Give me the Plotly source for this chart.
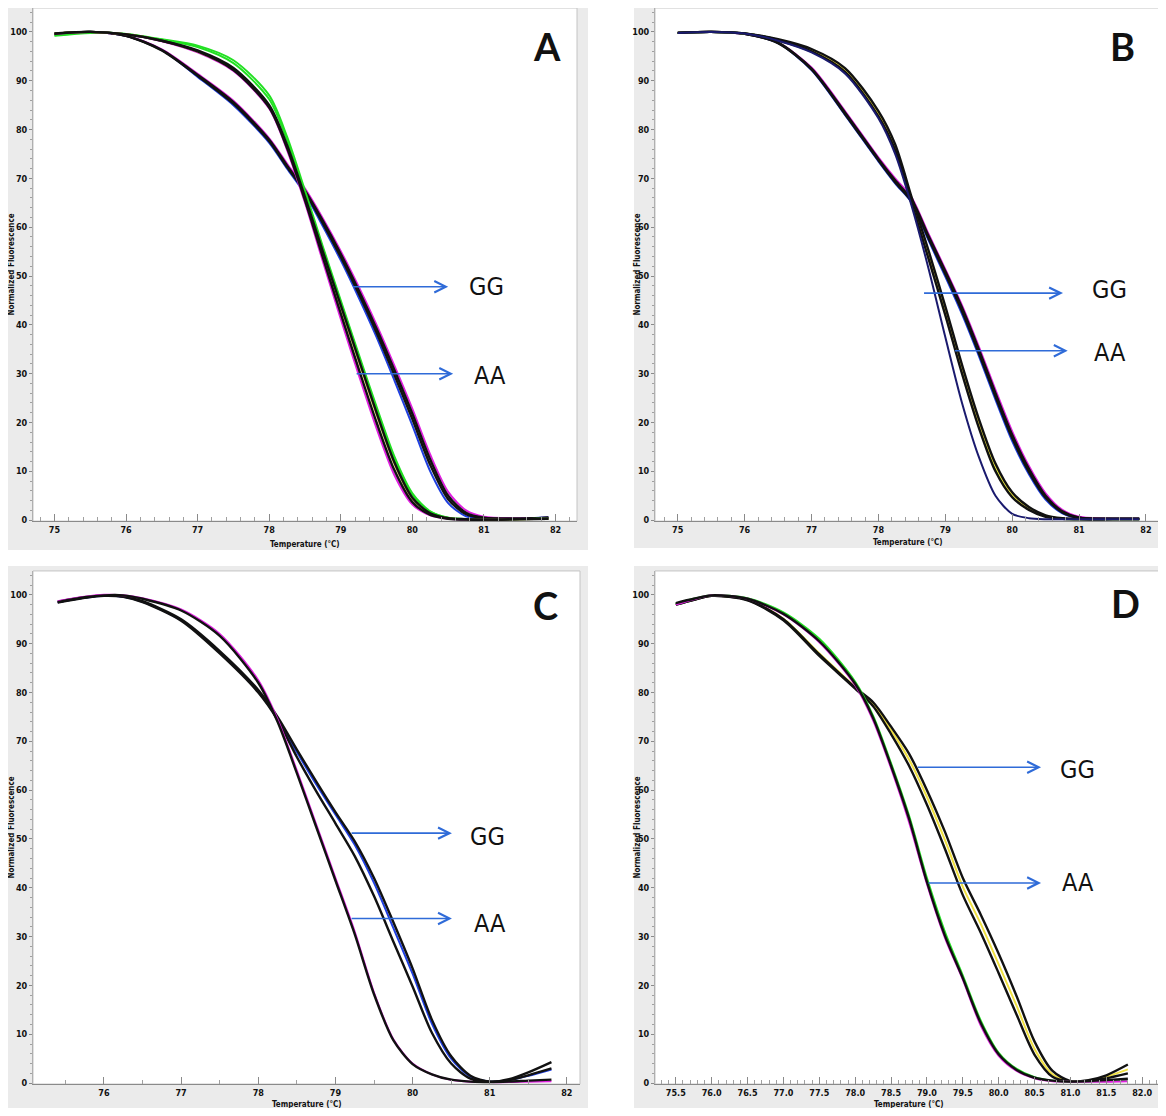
import plotly.graph_objects as go

# page has an 8px body margin: figure is drawn 8px in from the top-left corner
OX, OY = 8, 8
W, H = 1150, 1100

# ---------------- Panel A data ----------------
tA = [75.0, 75.5, 76.0, 76.5, 77.0, 77.5, 78.0, 78.25, 78.5, 78.75, 79.0,
      79.25, 79.5, 79.75, 80.0, 80.25, 80.5, 80.75, 81.0, 81.5, 81.9]
A_aa_green1 = [99.3, 99.9, 99.6, 98.5, 97.2, 94.2, 87.0, 78.5, 67.5, 56.0, 45.0, 34.0, 23.2, 13.0, 5.5, 1.8, 0.5, 0.2, 0.1, 0.2, 0.4]
A_aa_green2 = [99.2, 99.8, 99.6, 98.4, 96.9, 93.6, 86.2, 77.8, 66.8, 55.5, 44.5, 33.5, 22.8, 12.6, 5.2, 1.7, 0.5, 0.2, 0.1, 0.2, 0.3]
A_aa_black1 = [99.7, 100.0, 99.5, 98.2, 96.2, 92.6, 85.0, 76.8, 66.2, 55.0, 44.0, 33.0, 22.0, 11.8, 4.6, 1.4, 0.4, 0.2, 0.1, 0.2, 0.3]
A_aa_yellow = [99.7, 100.0, 99.5, 98.2, 96.0, 92.3, 84.7, 76.5, 66.0, 54.7, 43.6, 32.6, 21.6, 11.5, 4.4, 1.3, 0.4, 0.2, 0.1, 0.2, 0.3]
A_aa_black2 = [99.6, 100.0, 99.5, 98.2, 96.0, 92.2, 84.5, 76.2, 65.5, 53.8, 42.3, 31.0, 20.0, 10.2, 3.7, 1.1, 0.3, 0.1, 0.1, 0.2, 0.3]
A_aa_magenta = [99.6, 100.0, 99.5, 98.1, 95.8, 92.0, 84.3, 75.8, 65.0, 53.0, 41.2, 29.8, 18.8, 9.2, 3.2, 1.0, 0.3, 0.1, 0.1, 0.2, 0.3]
A_gg_blue = [99.6, 100.0, 99.2, 96.3, 90.8, 85.0, 77.3, 72.0, 66.8, 60.2, 53.2, 45.6, 37.5, 28.6, 19.4, 10.0, 3.5, 0.8, 0.3, 0.3, 0.6]
A_gg_black1 = [99.6, 100.0, 99.2, 96.2, 91.0, 85.3, 77.6, 72.3, 67.2, 60.8, 53.9, 46.4, 38.4, 29.7, 20.7, 11.3, 4.3, 1.2, 0.4, 0.3, 0.5]
A_gg_black2 = [99.6, 100.0, 99.2, 96.3, 91.2, 85.6, 77.9, 72.6, 67.5, 61.3, 54.5, 47.1, 39.2, 30.7, 21.8, 12.4, 5.0, 1.5, 0.5, 0.3, 0.5]
A_gg_magenta = [99.5, 100.0, 99.2, 96.4, 91.4, 85.9, 78.2, 73.0, 67.9, 61.8, 55.1, 47.8, 40.0, 31.6, 22.8, 13.4, 5.8, 2.0, 0.7, 0.4, 0.5]

# ---------------- Panel B data ----------------
tB = [75.0, 75.5, 76.0, 76.5, 77.0, 77.5, 78.0, 78.25, 78.5, 78.75, 79.0,
      79.25, 79.5, 79.75, 80.0, 80.25, 80.5, 80.75, 81.0, 81.5, 81.9]
B_aa_navy = [99.8, 100.0, 99.7, 98.2, 95.8, 91.5, 82.3, 75.0, 64.2, 51.5, 37.5, 24.0, 13.0, 5.0, 1.3, 0.4, 0.2, 0.2, 0.2, 0.2, 0.2]
B_aa_yellow = [99.8, 100.0, 99.7, 98.4, 96.3, 92.2, 83.3, 76.5, 65.5, 54.5, 43.0, 31.0, 20.0, 11.0, 5.3, 2.4, 0.9, 0.3, 0.2, 0.2, 0.2]
B_aa_green = [99.8, 100.0, 99.7, 98.4, 96.2, 92.0, 83.0, 76.2, 65.2, 54.0, 42.5, 30.5, 19.5, 10.6, 5.0, 2.3, 0.8, 0.3, 0.2, 0.2, 0.2]
B_aa_black1 = [99.8, 100.0, 99.7, 98.5, 96.5, 92.6, 83.8, 77.0, 66.0, 55.2, 43.8, 31.8, 20.8, 11.6, 5.7, 2.7, 1.0, 0.4, 0.2, 0.2, 0.2]
B_aa_black2 = [99.8, 100.0, 99.7, 98.3, 96.0, 91.8, 82.7, 75.8, 64.8, 53.5, 42.0, 30.0, 19.0, 10.0, 4.7, 2.1, 0.7, 0.3, 0.2, 0.2, 0.2]
B_gg_blue = [99.8, 100.0, 99.6, 97.7, 92.2, 83.0, 73.5, 69.0, 65.0, 57.3, 49.9, 42.2, 33.7, 24.7, 16.2, 9.4, 4.2, 1.4, 0.4, 0.3, 0.3]
B_gg_black1 = [99.8, 100.0, 99.6, 97.7, 92.3, 83.2, 73.7, 69.2, 65.2, 57.7, 50.4, 42.8, 34.3, 25.3, 16.8, 9.9, 4.6, 1.6, 0.5, 0.3, 0.3]
B_gg_black2 = [99.8, 100.0, 99.6, 97.8, 92.5, 83.5, 74.0, 69.6, 65.6, 58.2, 51.0, 43.5, 35.0, 26.0, 17.5, 10.5, 5.0, 1.8, 0.5, 0.3, 0.3]
B_gg_magenta = [99.8, 100.0, 99.6, 97.8, 92.7, 83.8, 74.3, 70.0, 66.0, 58.6, 51.4, 44.0, 35.6, 26.7, 18.2, 11.1, 5.5, 2.1, 0.7, 0.3, 0.3]

# ---------------- Panel C data ----------------
tC = [75.4, 75.75, 76.0, 76.25, 76.5, 77.0, 77.5, 78.0, 78.25, 78.5, 78.75, 79.0,
      79.25, 79.5, 79.75, 80.0, 80.25, 80.5, 80.75, 81.0, 81.25, 81.5, 81.8]
C_aa_magenta = [98.7, 99.6, 100.0, 99.9, 99.3, 97.0, 92.0, 82.5, 74.5, 64.0, 53.0, 42.0, 31.0, 18.5, 9.0, 4.0, 1.8, 0.7, 0.3, 0.2, 0.2, 0.3, 0.4]
C_aa_black = [98.5, 99.5, 99.9, 99.9, 99.2, 96.8, 91.6, 82.0, 74.0, 63.5, 52.5, 41.5, 30.5, 18.2, 8.8, 3.9, 1.8, 0.7, 0.3, 0.2, 0.3, 0.5, 0.7]
C_gg_blue = [98.5, 99.4, 99.8, 99.6, 98.6, 94.8, 88.2, 80.2, 74.6, 67.8, 61.2, 55.0, 48.8, 41.0, 31.8, 22.4, 12.2, 5.0, 1.3, 0.3, 0.6, 1.5, 2.8]
C_gg_black1 = [98.6, 99.5, 99.9, 99.7, 98.7, 95.0, 88.5, 80.5, 75.0, 68.3, 61.8, 55.5, 49.5, 42.0, 33.0, 23.5, 13.0, 5.5, 1.5, 0.3, 0.8, 2.2, 4.3]
C_gg_black2 = [98.4, 99.4, 99.8, 99.6, 98.5, 94.7, 88.0, 80.0, 74.4, 66.8, 59.8, 53.2, 46.5, 38.3, 29.0, 19.8, 10.3, 4.0, 0.9, 0.3, 0.6, 1.6, 3.0]

# ---------------- Panel D data ----------------
tD = [75.5, 75.75, 76.0, 76.5, 77.0, 77.5, 78.0, 78.25, 78.5, 78.75, 79.0,
      79.25, 79.5, 79.75, 80.0, 80.25, 80.5, 80.75, 81.0, 81.25, 81.5, 81.8]
D_aa_magenta = [98.0, 99.1, 99.9, 99.2, 96.0, 90.3, 81.5, 74.3, 64.5, 53.5, 40.8, 29.8, 21.2, 11.8, 5.6, 2.5, 1.0, 0.4, 0.3, 0.3, 0.3, 0.4]
D_aa_black = [98.3, 99.2, 99.9, 99.2, 96.1, 90.5, 81.8, 74.8, 65.0, 54.2, 41.2, 30.2, 21.5, 12.3, 5.9, 2.7, 1.1, 0.5, 0.3, 0.4, 0.6, 0.9]
D_aa_green = [98.2, 99.2, 99.9, 99.3, 96.4, 91.0, 82.2, 75.2, 65.5, 54.8, 42.0, 31.0, 22.0, 12.8, 6.2, 2.9, 1.2, 0.5, 0.3, 0.3, 0.4, 0.5]
D_gg_black1 = [98.0, 99.0, 99.8, 99.0, 95.0, 87.8, 81.0, 78.0, 73.0, 67.5, 60.0, 51.5, 42.0, 34.5, 26.5, 17.8, 8.5, 2.5, 0.4, 0.6, 1.6, 3.8]
D_gg_yellow = [98.1, 99.0, 99.8, 99.0, 95.1, 88.0, 81.1, 77.6, 72.3, 66.3, 58.6, 49.8, 40.2, 32.6, 24.3, 15.8, 7.0, 1.8, 0.4, 0.5, 1.3, 2.8]
D_gg_black2 = [98.0, 99.0, 99.8, 98.9, 94.8, 87.5, 80.8, 77.2, 71.5, 65.0, 57.0, 48.0, 38.5, 30.8, 22.5, 14.0, 5.8, 1.3, 0.3, 0.4, 1.0, 2.0]

# tick labels
ticks_AB = [75, 76, 77, 78, 79, 80, 81, 82]
ticks_C = [76, 77, 78, 79, 80, 81, 82]
ticks_D = [75.5, 76.0, 76.5, 77.0, 77.5, 78.0, 78.5, 79.0, 79.5, 80.0, 80.5, 81.0, 81.5, 82.0]
ticks_y = [0, 10, 20, 30, 40, 50, 60, 70, 80, 90, 100]

GREEN = "#22e022"
BLACK = "#111111"
MAGENTA = "#e020e0"
BLUE = "#1f3fe0"
YELLOW = "#f0e040"
NAVY = "#1a1a6e"

panels = [
    dict(name="A", t=tA, series=[
        (A_gg_blue, BLUE), (A_gg_magenta, MAGENTA), (A_gg_black1, BLACK), (A_gg_black2, BLACK),
        (A_aa_green1, GREEN), (A_aa_green2, GREEN), (A_aa_magenta, MAGENTA), (A_aa_yellow, YELLOW),
        (A_aa_black1, BLACK), (A_aa_black2, BLACK)],
        xr=[74.7, 82.3], ticks=ticks_AB, minor=0.2, fmt="d",
        xdom=(33, 577), ydom=(8, 523),
        frame=(8, 7, 588, 552),
        gg=dict(y=47.8, x0=79.15, x1=80.50, tx=81.04, ty=47.8),
        aa=dict(y=30.0, x0=79.20, x1=80.57, tx=81.08, ty=29.6),
        letter=(547, 46)),
    dict(name="B", t=tB, series=[
        (B_gg_blue, BLUE), (B_gg_magenta, MAGENTA), (B_gg_black1, BLACK), (B_gg_black2, BLACK),
        (B_aa_green, GREEN), (B_aa_yellow, YELLOW), (B_aa_black1, BLACK), (B_aa_black2, BLACK),
        (B_aa_navy, NAVY)],
        xr=[74.66, 82.18], ticks=ticks_AB, minor=0.2, fmt="d",
        xdom=(655, 1160), ydom=(8, 523),
        frame=(634, 7, 1166, 550),
        gg=dict(y=46.5, x0=78.66, x1=80.76, tx=81.46, ty=47.3),
        aa=dict(y=34.7, x0=79.12, x1=80.83, tx=81.46, ty=34.3),
        letter=(1122, 46)),
    dict(name="C", t=tC, series=[
        (C_gg_blue, BLUE), (C_gg_black1, BLACK), (C_gg_black2, BLACK),
        (C_aa_magenta, MAGENTA), (C_aa_black, BLACK)],
        xr=[75.08, 82.17], ticks=ticks_C, minor=0.5, fmt="d",
        xdom=(33, 580), ydom=(573, 1088),
        frame=(8, 568, 588, 1114),
        gg=dict(y=51.2, x0=79.19, x1=80.51, tx=80.97, ty=50.6),
        aa=dict(y=33.7, x0=79.19, x1=80.51, tx=81.0, ty=32.7),
        letter=(545, 607)),
    dict(name="D", t=tD, series=[
        (D_gg_yellow, YELLOW), (D_gg_black1, BLACK), (D_gg_black2, BLACK),
        (D_aa_green, GREEN), (D_aa_magenta, MAGENTA), (D_aa_black, BLACK)],
        xr=[75.21, 82.22], ticks=ticks_D, minor=0.1, fmt=".1f",
        xdom=(655, 1163), ydom=(573, 1088),
        frame=(634, 568, 1166, 1116),
        gg=dict(y=64.7, x0=78.85, x1=80.59, tx=81.1, ty=64.3),
        aa=dict(y=41.0, x0=79.0, x1=80.59, tx=81.1, ty=41.0),
        letter=(1125, 605)),
]


def px(xp):
    return (xp - OX) / W


def py(yp):
    return 1 - (yp - OY) / H


fig = go.Figure()
shapes = []
annotations = []
NARROW = "Liberation Sans Narrow, DejaVu Sans Condensed, Arial Narrow, sans-serif"
TICKFONT = dict(family=NARROW, size=9, color="#111111", weight="bold")
TITLEFONT = dict(family=NARROW, size=8, color="#111111", weight="bold")

for i, p in enumerate(panels):
    k = "" if i == 0 else str(i + 1)
    xa, ya = "x" + k, "y" + k
    for vals, col in p["series"]:
        fig.add_trace(go.Scatter(
            x=p["t"], y=vals, mode="lines", xaxis=xa, yaxis=ya,
            line=dict(color=col, width=2.4 if col == BLACK else 2.0, shape="spline", smoothing=0.8),
            showlegend=False, hoverinfo="skip"))
    x0, x1 = p["xdom"]
    yt, yb = p["ydom"]
    fig.layout["xaxis" + k] = dict(
        domain=[max(0, px(x0)), min(1, px(x1))], range=p["xr"], anchor=ya,
        tickmode="array", tickvals=p["ticks"],
        ticktext=[(f"{v:.1f}" if p["fmt"] == ".1f" else f"{int(v)}") for v in p["ticks"]],
        ticks="inside", ticklen=7, tickcolor="#8a8a8a", tickwidth=1,
        minor=dict(dtick=p["minor"], ticks="inside", ticklen=4, tickcolor="#a0a0a0", tick0=75),
        showline=True, linecolor="#8a8a8a", linewidth=1,
        showgrid=False, zeroline=False, tickfont=TICKFONT, fixedrange=True)
    fig.layout["yaxis" + k] = dict(
        domain=[max(0, py(yb)), min(1, py(yt))], range=[-0.2, 104.9], anchor=xa,
        tickmode="array", tickvals=ticks_y,
        ticks="outside", ticklen=3, tickcolor="#8a8a8a", tickwidth=1,
        minor=dict(dtick=2, ticks="outside", ticklen=2, tickcolor="#a0a0a0"),
        showline=True, linecolor="#b0b0b0", linewidth=1,
        showgrid=False, zeroline=False, tickfont=TICKFONT, fixedrange=True)
    fx0, fy0, fx1, fy1 = p["frame"]
    shapes.append(dict(type="rect", xref="paper", yref="paper", layer="below",
                       x0=px(fx0), x1=px(fx1), y0=py(fy1), y1=py(fy0),
                       fillcolor="#ebebeb", line=dict(width=0)))
    shapes.append(dict(type="rect", xref="paper", yref="paper", layer="below",
                       x0=px(x0), x1=px(x1), y0=py(yb), y1=py(yt),
                       fillcolor="white", line=dict(width=1, color="#c4c4c4")))
    # arrows and labels
    for key, lab in (("gg", "GG"), ("aa", "AA")):
        a = p[key]
        annotations.append(dict(
            x=a["x1"], y=a["y"], ax=a["x0"], ay=a["y"], xref=xa, yref=ya, axref=xa, ayref=ya,
            text="", showarrow=True, arrowhead=5, arrowsize=1.4, arrowwidth=1.6,
            arrowcolor="#2f6bd8", standoff=0, startstandoff=0))
        annotations.append(dict(
            x=a["tx"], y=a["ty"], xref=xa, yref=ya, text=lab, showarrow=False,
            font=dict(family=NARROW, size=25, color="#111111"),
            xanchor="center", yanchor="middle"))
    lx, ly = p["letter"]
    annotations.append(dict(x=px(lx), y=py(ly), xref="paper", yref="paper", text=p["name"],
                            showarrow=False, xanchor="center", yanchor="middle",
                            font=dict(family="Lato, Open Sans, sans-serif", size=38,
                                      color="#111111", weight="bold")))
    # axis titles
    annotations.append(dict(x=px((x0 + x1) / 2), y=py(fy1 - 6) if fy1 < 1110 else py(1108),
                            xref="paper", yref="paper",
                            text="Temperature (°C)", showarrow=False, xanchor="center",
                            yanchor="middle", font=TITLEFONT))
    annotations.append(dict(x=px(fx0 + 4), y=py((yt + yb) / 2), xref="paper", yref="paper",
                            text="Normalized Fluorescence", showarrow=False, textangle=-90,
                            xanchor="center", yanchor="middle", font=TITLEFONT))

fig.update_layout(
    width=W, height=H, margin=dict(l=0, r=0, t=0, b=0),
    paper_bgcolor="white", plot_bgcolor="rgba(0,0,0,0)",
    shapes=shapes, annotations=annotations, showlegend=False)

fig.write_html("out.html")
